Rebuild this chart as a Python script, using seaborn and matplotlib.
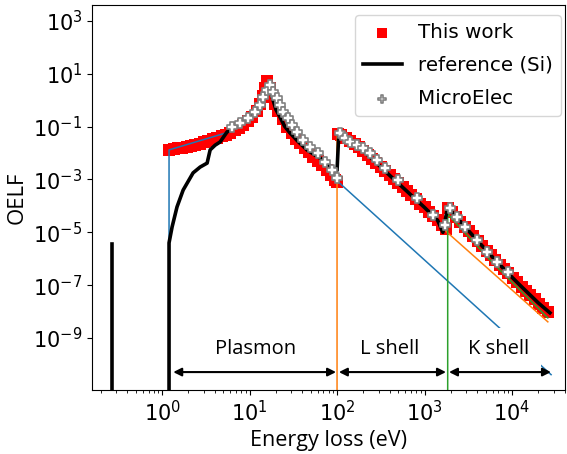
import matplotlib
matplotlib.use("Agg")
import matplotlib.pyplot as plt
import matplotlib.ticker as mticker
import pandas as pd
import seaborn as sns

# This work (red squares): plasmon, L shell and K shell parts
work_e = [1.20, 1.35, 1.51, 1.70, 1.91, 2.14, 2.40, 2.69, 3.02, 3.39, 3.80, 4.27, 4.79,
          5.37, 6.03, 6.76, 7.59, 8.51, 9.55, 10.7, 12.0, 13.2, 14.1, 15.1, 15.8,
          17.0, 18.2, 19.5, 21.4, 24.0, 26.9, 30.2, 33.9, 38.0, 42.7, 47.9, 53.7, 60.3,
          67.6, 75.9, 85.1, 95.5, 100.0,
          102.3, 112.2, 125.9, 141.3, 158.5, 177.8, 199.5, 223.9, 251.2, 281.8, 316.2,
          354.8, 398.1, 446.7, 501.2, 562.3, 631.0, 707.9, 794.3, 891.3, 1000, 1122,
          1259, 1413, 1585, 1738,
          1862, 2042, 2291, 2570, 2884, 3236, 3631, 4074, 4571, 5129, 5754, 6457, 7244,
          8128, 9120, 10230, 11480, 12880, 14450, 16220, 18200, 20420, 22910, 25700]
work_oelf = [1.318e-2, 1.413e-2, 1.514e-2, 1.622e-2, 1.738e-2, 1.905e-2, 2.089e-2,
             2.291e-2, 2.570e-2, 2.884e-2, 3.311e-2, 3.802e-2, 4.365e-2, 5.012e-2,
             5.888e-2, 7.244e-2, 9.120e-2, 0.1202, 0.1660, 0.2399, 0.3981, 0.7079,
             1.413, 2.818, 5.248,
             2.818, 1.318, 0.7079, 0.3802, 0.1905, 0.100, 5.754e-2, 3.548e-2, 2.344e-2,
             1.585e-2, 1.072e-2, 7.244e-3, 4.898e-3, 3.388e-3, 2.344e-3, 1.514e-3,
             9.333e-4, 7.943e-4,
             5.248e-2, 4.677e-2, 3.802e-2, 2.951e-2, 2.239e-2, 1.660e-2, 1.202e-2,
             8.511e-3, 6.026e-3, 4.266e-3, 2.951e-3, 2.089e-3, 1.445e-3, 1.023e-3,
             7.244e-4, 5.012e-4, 3.548e-4, 2.512e-4, 1.778e-4, 1.230e-4, 8.710e-5,
             6.026e-5, 4.169e-5, 2.818e-5, 1.905e-5, 1.380e-5,
             8.318e-5, 6.026e-5, 3.802e-5, 2.512e-5, 1.622e-5, 1.072e-5, 7.079e-6,
             4.677e-6, 3.090e-6, 2.042e-6, 1.349e-6, 8.913e-7, 6.026e-7, 4.074e-7,
             2.754e-7, 1.862e-7, 1.259e-7, 8.710e-8, 6.026e-8, 4.169e-8, 2.884e-8,
             1.995e-8, 1.380e-8, 9.772e-9]

# reference (Si), black line; the lone spike at low energy is drawn on its own
spike_e = [0.27, 0.27]
spike_oelf = [1e-12, 3.6e-6]
ref_e = [1.2, 1.2, 1.30, 1.48, 1.74, 2.26, 2.72, 3.27, 3.54, 4.04, 4.60, 5.53, 6.31, 7.94,
         10.0, 12.0, 14.1, 16.6, 18.2, 20.0, 22.3, 25.1, 29.0, 36.3, 45.4, 56.2, 69.2,
         94.8, 100.0, 104.7, 125.9, 158.5, 199.5, 281.8, 398.1, 631.0, 1000, 1413, 1622,
         1841, 1995, 2512, 3162, 3981, 5012, 6310, 7943, 10000, 12590, 15850, 19950, 27160]
ref_oelf = [1e-12, 3.98e-6, 1.585e-5, 9.12e-5, 3.98e-4, 1.778e-3, 2.951e-3, 4.169e-3,
            1.318e-2, 1.995e-2, 2.630e-2, 6.310e-2, 8.913e-2, 0.1413, 0.2399, 0.4467,
            1.122, 3.162, 1.259, 0.4467, 0.2291, 0.1047, 5.754e-2, 2.630e-2, 1.318e-2,
            8.318e-3, 5.495e-3, 2.291e-3, 2.188e-3, 5.248e-2, 3.802e-2, 2.239e-2,
            1.202e-2, 4.266e-3, 1.445e-3, 3.548e-4, 8.710e-5, 2.818e-5, 1.0e-5,
            9.12e-5, 6.607e-5, 2.818e-5, 1.175e-5, 5.012e-6, 2.188e-6, 9.55e-7,
            4.365e-7, 1.995e-7, 9.333e-8, 4.467e-8, 2.138e-8, 8.913e-9]

# MicroElec (white crosses)
micro_e = [6.31, 7.78, 9.62, 11.56, 13.18, 14.26, 15.85, 17.14, 18.58, 20.61, 22.34,
           24.15, 27.54, 30.62, 34.91, 40.83, 49.09, 60.67, 72.95, 87.70, 101.0,
           108.1, 123.3, 140.9, 169.4, 198.2, 238.2, 286.4, 354.0, 497.7, 820.4, 1250,
           1714, 1954, 2350, 2904, 3981, 5176, 6745, 8995]
micro_oelf = [9.68e-2, 0.1374, 0.2123, 0.3581, 0.6592, 1.324, 2.438, 3.767, 2.046, 1.213,
              0.6592, 0.3581, 0.2123, 0.1153, 6.266e-2, 3.119e-2, 1.694e-2, 1.005e-2,
              4.592e-3, 2.286e-3, 1.138e-3,
              5.741e-2, 3.715e-2, 2.624e-2, 2.018e-2, 1.556e-2, 1.005e-2, 5.458e-3,
              2.723e-3, 9.55e-4, 2.0e-4, 4.529e-5, 1.901e-5, 8.337e-5, 3.802e-5,
              1.581e-5, 5.117e-6, 1.799e-6, 7.534e-7, 3.148e-7]

# components: plasmon (blue), L shell (orange), K shell (green)
plasmon_e = [1.2, 1.2, 6.0, 7.94, 10.0, 12.0, 14.1, 16.6, 18.2, 20.0, 22.3, 25.1, 29.0,
             36.3, 45.4, 56.2, 69.2, 87.7, 100.0, 28000]
plasmon_oelf = [1e-12, 1.318e-2, 6.457e-2, 0.1413, 0.2399, 0.4467, 1.122, 3.162, 1.259,
                0.4467, 0.2291, 0.1047, 5.754e-2, 2.630e-2, 1.318e-2, 8.318e-3, 5.495e-3,
                2.286e-3, 8.913e-4, 4.074e-11]
lshell_e = [100, 100, 104.7, 125.9, 158.5, 199.5, 281.8, 398.1, 631.0, 1000, 1413, 1841,
            25700]
lshell_oelf = [1e-12, 4.467e-2, 4.786e-2, 3.548e-2, 2.089e-2, 1.122e-2, 3.981e-3,
               1.349e-3, 3.311e-4, 8.128e-5, 2.630e-5, 9.55e-6, 4.074e-9]
kshell_e = [1841, 1841, 2118, 5888, 25700]
kshell_oelf = [1e-12, 5.012e-5, 2.951e-5, 7.586e-7, 5.754e-9]

# region labels and arrow spans
region_names = ["Plasmon", "L shell", "K shell"]
region_text_e = [11.6, 403, 7100]
region_spans = [(1.34, 97.4), (105, 1760), (1905, 27900)]
text_oelf = 3.8e-10
arrow_oelf = 5.1e-11

label_font = ["Open Sans", "DejaVu Sans"]

fig = plt.figure(figsize=(5.67, 4.54), dpi=100)
ax = fig.add_axes([0.1623, 0.141, 0.8342, 0.848])
ax.set_xscale("log")
ax.set_yscale("log")

sns.scatterplot(x=work_e, y=work_oelf, marker="s", s=80, color="red", linewidth=0,
                label="This work", ax=ax, zorder=2)
for xs, ys, c in [(plasmon_e, plasmon_oelf, "#1f77b4"),
                  (lshell_e, lshell_oelf, "#ff7f0e"),
                  (kshell_e, kshell_oelf, "#2ca02c")]:
    sns.lineplot(x=xs, y=ys, estimator=None, sort=False, color=c, lw=1.1, ax=ax,
                 zorder=2.5)
sns.lineplot(x=spike_e, y=spike_oelf, estimator=None, sort=False, color="black", lw=2.6,
             ax=ax, zorder=3)
sns.lineplot(x=ref_e, y=ref_oelf, estimator=None, sort=False, color="black", lw=2.6,
             label="reference (Si)", ax=ax, zorder=3)
sns.scatterplot(x=micro_e, y=micro_oelf, marker="P", s=55, color="white",
                edgecolor="gray", linewidth=1.2, label="MicroElec", ax=ax, zorder=4)

ax.set_xlim(0.158, 4.04e4)
ax.set_ylim(1.07e-11, 4.04e3)
ax.set_yticks([1e-9, 1e-7, 1e-5, 1e-3, 1e-1, 1e1, 1e3])
ax.yaxis.set_minor_locator(mticker.NullLocator())
ax.tick_params(axis="both", which="major", labelsize=15)

for name, tx, (e0, e1) in zip(region_names, region_text_e, region_spans):
    ax.annotate("", xy=(e1, arrow_oelf), xytext=(e0, arrow_oelf),
                arrowprops=dict(arrowstyle="<|-|>", color="black", lw=1.5,
                                mutation_scale=12, shrinkA=0, shrinkB=0), zorder=5)
    ax.text(tx, text_oelf, name, ha="center", va="center", fontsize=14.5,
            family=label_font, zorder=4.5,
            bbox=dict(facecolor="white", edgecolor="none", pad=8))

ax.set_xlabel("Energy loss (eV)", fontsize=15.5, family=label_font)
ax.set_ylabel("OELF", fontsize=16, family=label_font)

handles, labels = ax.get_legend_handles_labels()
ax.legend(handles, labels, loc="upper right", bbox_to_anchor=(0.9915, 0.974),
          borderaxespad=0, fontsize=14.3, handlelength=2.0, labelspacing=0.7,
          markerscale=0.8)

fig.savefig("out.png", dpi=100)
